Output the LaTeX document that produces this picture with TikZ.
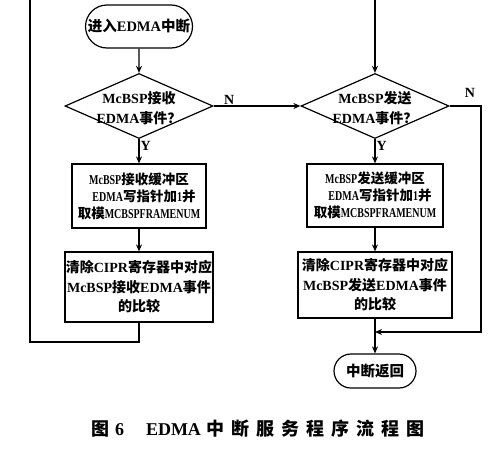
\documentclass[tikz,border=0pt]{standalone}
\usepackage{fontspec}
\setmainfont{Liberation Serif}
\newfontfamily\cjkf{Noto Sans CJK SC}
\newfontfamily\narrowf[FakeStretch=0.74]{Liberation Serif}
\newcommand\zh[1]{{\cjkf #1}}
\newcommand\nr[1]{{\narrowf #1}}
\usetikzlibrary{shapes.geometric,shapes.misc,arrows.meta}
\begin{document}
\begin{tikzpicture}[x=1pt,y=-1pt,line width=1.2pt,
  arr/.style={-{Stealth[length=7pt,width=6pt]}},
  term/.style={draw,rounded rectangle,inner sep=0pt,font=\fontsize{14.5}{18}\selectfont\bfseries},
  dia/.style={draw,diamond,minimum width=148pt,minimum height=65pt,inner sep=0pt},
  diatext/.style={align=center,inner sep=0pt,font=\fontsize{14}{20}\selectfont\bfseries},
  boxa/.style={draw,rectangle,inner sep=0pt,align=center,font=\fontsize{13.5}{17}\selectfont\bfseries},
  boxb/.style={draw,rectangle,inner sep=0pt,align=center,font=\fontsize{14}{19.5}\selectfont\bfseries},
  lbl/.style={inner sep=1pt,font=\fontsize{14}{16}\selectfont\bfseries}]
\useasboundingbox (0,0) rectangle (500,455);
% left column
\node[term,minimum width=107pt,minimum height=43pt] (start) at (139,26.5) {\zh{进入}EDMA\zh{中断}};
\node[dia] (d1) at (139,106) {};
\node[diatext] (d1t) at (139,108) {McBSP\zh{接收}\\EDMA\zh{事件？}};
\node[boxa,minimum width=134pt,minimum height=64pt] (b1) at (139,196)
  {\nr{McBSP}\zh{接收缓冲区}\\\hspace*{10pt}\nr{EDMA}\zh{写指针加}\nr{1}\zh{并}\\\zh{取模}\nr{MCBSPFRAMENUM}};
\node[boxb,minimum width=148pt,minimum height=70pt] (b2) at (139,287)
  {\zh{清除}CIPR\zh{寄存器中对应}\\McBSP\zh{接收}EDMA\zh{事件}\\\zh{的比较}};
% right column
\node[dia] (d2) at (375,106) {};
\node[diatext] (d2t) at (375,108) {McBSP\zh{发送}\\EDMA\zh{事件？}};
\node[boxa,minimum width=136pt,minimum height=63pt] (b3) at (375,195.5)
  {\nr{McBSP}\zh{发送缓冲区}\\\hspace*{10pt}\nr{EDMA}\zh{写指针加}\nr{1}\zh{并}\\\zh{取模}\nr{MCBSPFRAMENUM}};
\node[boxb,minimum width=154pt,minimum height=66pt] (b4) at (375,285)
  {\zh{清除}CIPR\zh{寄存器中对应}\\McBSP\zh{发送}EDMA\zh{事件}\\\zh{的比较}};
\node[term,minimum width=82pt,minimum height=34pt] (end) at (375,371) {\zh{中断返回}};
% coordinates
\coordinate (topL) at (30,0);
\coordinate (loopL) at (30,342);
\coordinate (topR) at (375,0);
\coordinate (rr) at (481,332);
\coordinate (jn) at (375,332);
% connectors
\draw[arr] (start) -- (d1);
\draw[arr] (d1) -- node[lbl,right,pos=0.3]{Y} (b1);
\draw[arr] (b1) -- (b2);
\draw (b2.south) |- (loopL) -- (topL);
\draw[arr] (topR) -- (d2.north);
\draw[arr] (d1.east) -- node[lbl,above,pos=0.18]{N} (d2.west);
\draw[arr] (d2) -- node[lbl,right,pos=0.3]{Y} (b3);
\draw[arr] (b3) -- (b4);
\draw[arr] (b4) -- (end);
\draw[arr] (d2.east) -| (rr) -- (jn);
\node[lbl] (n2) at (470,93) {N};
% caption
\node[inner sep=0pt,font=\fontsize{18}{20}\selectfont\bfseries] (cap) at (258,429)
  {\zh{图}\hspace{6pt}6\hspace{22pt}EDMA\hspace{6pt}\zh{中\hspace{7pt}断\hspace{7pt}服\hspace{7pt}务\hspace{7pt}程\hspace{7pt}序\hspace{7pt}流\hspace{7pt}程\hspace{7pt}图}};
\end{tikzpicture}
\end{document}
